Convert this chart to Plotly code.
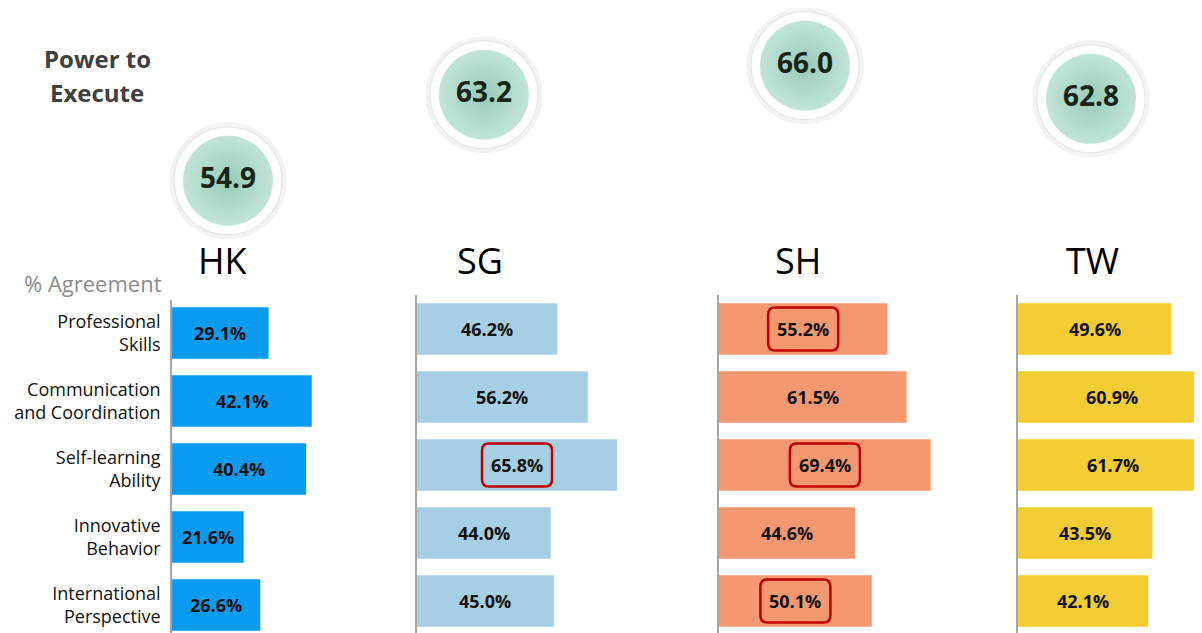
import plotly.graph_objects as go

# ---------------- data ----------------
categories = ["Professional<br>Skills", "Communication<br>and Coordination",
              "Self-learning<br>Ability", "Innovative<br>Behavior",
              "International<br>Perspective"]
regions = ["HK", "SG", "SH", "TW"]
hk_agree = [29.1, 42.1, 40.4, 21.6, 26.6]
sg_agree = [46.2, 56.2, 65.8, 44.0, 45.0]
sh_agree = [55.2, 61.5, 69.4, 44.6, 50.1]
tw_agree = [49.6, 60.9, 61.7, 43.5, 42.1]
power_to_execute = [54.9, 63.2, 66.0, 62.8]
hk_highlight = [False, False, False, False, False]
sg_highlight = [False, False, True, False, False]
sh_highlight = [True, False, True, False, True]
tw_highlight = [False, False, False, False, False]

series = [hk_agree, sg_agree, sh_agree, tw_agree]
highlights = [hk_highlight, sg_highlight, sh_highlight, tw_highlight]

# ---------------- layout / style ----------------
OFF = 8                     # page offset of the plot div (body margin)
PW, PH = 1202, 633          # page size
W, H = 1202, 633            # figure size
FIG_BOTTOM = OFF + H
FONT = "Open Sans"


def px(x):
    return (x - OFF) / W


def py(y):
    return 1 - (y - OFF) / H


colors = ["#0b9bf0", "#a7cfe4", "#f5986f", "#f4cc33"]
# page-pixel geometry of each panel
panels = [
    dict(x0=172, x1=400, scale=3.32, top=300, row0=333),
    dict(x0=417, x1=700, scale=3.04, top=295, row0=329),
    dict(x0=719, x1=1000, scale=3.05, top=295, row0=329),
    dict(x0=1018, x1=1202, scale=3.09, top=295, row0=329),
]
PITCH = 68.0
title_centers = [223, 480, 798, 1092]
circle_centers = [228, 484, 805, 1091]

fig = go.Figure()
layout = dict(
    width=W, height=H, autosize=False,
    margin=dict(l=0, r=0, t=0, b=0),
    paper_bgcolor="white", plot_bgcolor="rgba(0,0,0,0)",
    showlegend=False,
    font=dict(family=FONT, color="#111111"),
    annotations=[], shapes=[],
)

for k, (vals, hl, col, p) in enumerate(zip(series, highlights, colors, panels)):
    n = k + 1
    xa = "x" if n == 1 else f"x{n}"
    ya = "y" if n == 1 else f"y{n}"
    xmax = (p["x1"] - p["x0"]) / p["scale"]
    fig.add_trace(go.Bar(
        x=vals, y=categories, orientation="h",
        marker=dict(color=col, line=dict(width=0)),
        width=0.76, xaxis=xa, yaxis=ya, hoverinfo="skip",
    ))
    ytop = -(p["row0"] - p["top"]) / PITCH
    ybot = ytop + (FIG_BOTTOM - p["top"]) / PITCH
    layout[f"xaxis{'' if n == 1 else n}"] = dict(
        domain=[px(p["x0"]), px(p["x1"])], range=[0, xmax],
        anchor=ya, visible=False, showgrid=False, zeroline=False,
    )
    layout[f"yaxis{'' if n == 1 else n}"] = dict(
        domain=[0, py(p["top"])], anchor=xa,
        type="category", categoryarray=categories,
        range=[ybot, ytop],
        showline=True, linecolor="#a6a6a6", linewidth=1.5,
        showgrid=False, zeroline=False, ticks="",
        showticklabels=(n == 1), ticklabelstandoff=6,
        tickfont=dict(family=FONT, size=18, color="#111111"),
    )
    for i, v in enumerate(vals):
        layout["annotations"].append(dict(
            x=v / 2, y=categories[i], xref=xa, yref=ya,
            xanchor="center", yanchor="middle",
            text=f"<b>{v:.1f}%</b>", showarrow=False,
            font=dict(family=FONT, size=18, color="#111111"),
        ))
        if hl[i]:
            path = ("M -28,-21.5 L 28,-21.5 Q 35,-21.5 35,-14.5 L 35,14.5 "
                    "Q 35,21.5 28,21.5 L -28,21.5 Q -35,21.5 -35,14.5 "
                    "L -35,-14.5 Q -35,-21.5 -28,-21.5 Z")
            layout["shapes"].append(dict(
                type="path", xref=xa, yref=ya,
                xsizemode="pixel", ysizemode="pixel",
                xanchor=v / 2, yanchor=categories[i], path=path,
                line=dict(color="#c00000", width=2.5), fillcolor="rgba(0,0,0,0)",
            ))
    # panel title
    layout["annotations"].append(dict(
        x=px(title_centers[k]), y=py(260), xref="paper", yref="paper",
        text=regions[k], showarrow=False, xanchor="center", yanchor="middle",
        font=dict(family=FONT, size=36, color="#000000"),
    ))

# power-to-execute circles on an overlay axis (page-pixel x, value y)
slope = 10.37
vmid, ymid = 61.725, 110.0
v_top = vmid + (ymid - OFF) / slope
v_bot = v_top - H / slope
layout["xaxis5"] = dict(domain=[0, 1], range=[OFF, OFF + W], anchor="y5",
                        visible=False, fixedrange=True)
layout["yaxis5"] = dict(domain=[0, 1], range=[v_bot, v_top], anchor="x5",
                        visible=False, fixedrange=True)
fig.add_trace(go.Scatter(
    x=circle_centers, y=power_to_execute, mode="markers",
    marker=dict(size=113, color="white", line=dict(color="#f3f3f3", width=4)),
    xaxis="x5", yaxis="y5", hoverinfo="skip", cliponaxis=False,
))
fig.add_trace(go.Scatter(
    x=circle_centers, y=power_to_execute, mode="markers",
    marker=dict(size=108, color="white", line=dict(color="#e6e6e6", width=1.2)),
    xaxis="x5", yaxis="y5", hoverinfo="skip", cliponaxis=False,
))
fig.add_trace(go.Scatter(
    x=circle_centers, y=power_to_execute, mode="markers+text",
    text=[f"<b>{v:.1f}</b>" for v in power_to_execute],
    textposition="middle center",
    textfont=dict(family=FONT, size=28, color="#172417"),
    marker=dict(size=90, color="#c2e4d9",
                gradient=dict(type="radial", color="#98cbb9"),
                line=dict(width=0)),
    xaxis="x5", yaxis="y5", hoverinfo="skip", cliponaxis=False,
))

# side labels
layout["annotations"].append(dict(
    x=px(97), y=py(58), xref="paper", yref="paper", text="<b>Power to</b>",
    showarrow=False, xanchor="center", yanchor="middle",
    font=dict(family=FONT, size=24, color="#404040"),
))
layout["annotations"].append(dict(
    x=px(97), y=py(93), xref="paper", yref="paper", text="<b>Execute</b>",
    showarrow=False, xanchor="center", yanchor="middle",
    font=dict(family=FONT, size=24, color="#404040"),
))
layout["annotations"].append(dict(
    x=px(164), y=py(283), xref="paper", yref="paper", text="% Agreement",
    showarrow=False, xanchor="right", yanchor="middle",
    font=dict(family=FONT, size=22, color="#8c8c8c"),
))

fig.update_layout(**layout)
fig.write_html("out.html")
